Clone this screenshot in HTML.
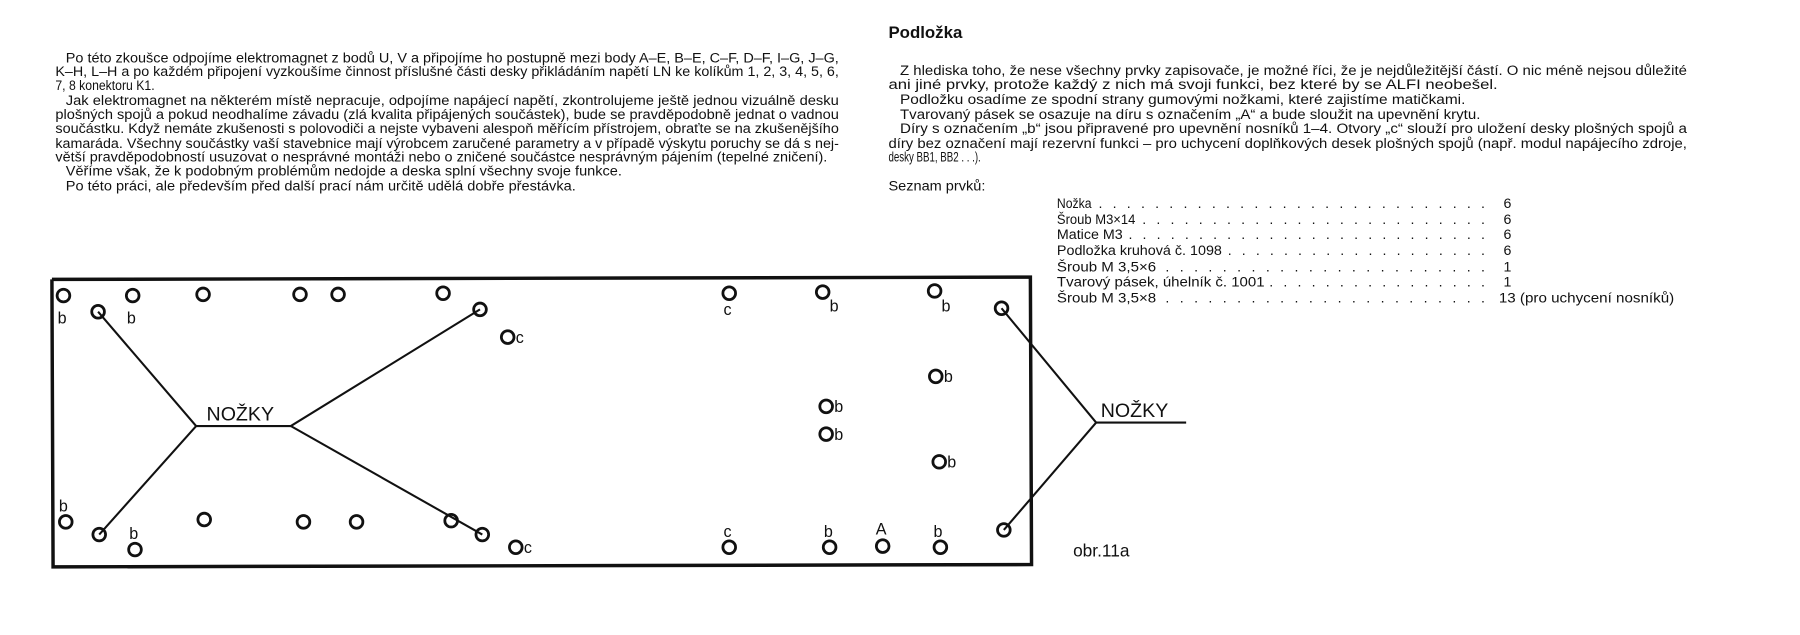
<!DOCTYPE html>
<html><head><meta charset="utf-8"><style>
html,body{margin:0;padding:0;background:#fff;width:1800px;height:635px;overflow:hidden}
svg{display:block}
text{font-family:"Liberation Sans",sans-serif;fill:#111}
.t{font-size:12.3px}
</style></head><body>
<svg width="1800" height="635" viewBox="0 0 1560 550" preserveAspectRatio="none" xmlns="http://www.w3.org/2000/svg">
<g class="t" lengthAdjust="spacingAndGlyphs">
<text x="57" y="54" textLength="670" lengthAdjust="spacingAndGlyphs">Po této zkoušce odpojíme elektromagnet z bodů U, V a připojíme ho postupně mezi body A–E, B–E, C–F, D–F, I–G, J–G,</text>
<text x="48" y="66" textLength="679" lengthAdjust="spacingAndGlyphs">K–H, L–H a po každém připojení vyzkoušíme činnost příslušné části desky přikládáním napětí LN ke kolíkům 1, 2, 3, 4, 5, 6,</text>
<text x="48" y="78" textLength="86" lengthAdjust="spacingAndGlyphs">7, 8 konektoru K1.</text>
<text x="57" y="91" textLength="670" lengthAdjust="spacingAndGlyphs">Jak elektromagnet na některém místě nepracuje, odpojíme napájecí napětí, zkontrolujeme ještě jednou vizuálně desku</text>
<text x="48" y="103" textLength="679" lengthAdjust="spacingAndGlyphs">plošných spojů a pokud neodhalíme závadu (zlá kvalita připájených součástek), bude se pravděpodobně jednat o vadnou</text>
<text x="48" y="115" textLength="679" lengthAdjust="spacingAndGlyphs">součástku. Když nemáte zkušenosti s polovodiči a nejste vybaveni alespoň měřícím přístrojem, obraťte se na zkušenějšího</text>
<text x="48" y="128" textLength="679" lengthAdjust="spacingAndGlyphs">kamaráda. Všechny součástky vaší stavebnice mají výrobcem zaručené parametry a v případě výskytu poruchy se dá s nej-</text>
<text x="48" y="140" textLength="669" lengthAdjust="spacingAndGlyphs">větší pravděpodobností usuzovat o nesprávné montáži nebo o zničené součástce nesprávným pájením (tepelné zničení).</text>
<text x="57" y="152" textLength="482" lengthAdjust="spacingAndGlyphs">Věříme však, že k podobným problémům nedojde a deska splní všechny svoje funkce.</text>
<text x="57" y="165" textLength="442" lengthAdjust="spacingAndGlyphs">Po této práci, ale především před další prací nám určitě udělá dobře přestávka.</text>

<text x="770" y="33" style="font-size:14.5px;font-weight:bold" textLength="64" lengthAdjust="spacingAndGlyphs">Podložka</text>
<text x="780" y="65" textLength="682" lengthAdjust="spacingAndGlyphs">Z hlediska toho, že nese všechny prvky zapisovače, je možné říci, že je nejdůležitější částí. O nic méně nejsou důležité</text>
<text x="770" y="77" textLength="528" lengthAdjust="spacingAndGlyphs">ani jiné prvky, protože každý z nich má svoji funkci, bez které by se ALFI neobešel.</text>
<text x="780" y="90" textLength="490" lengthAdjust="spacingAndGlyphs">Podložku osadíme ze spodní strany gumovými nožkami, které zajistíme matičkami.</text>
<text x="780" y="103" textLength="503" lengthAdjust="spacingAndGlyphs">Tvarovaný pásek se osazuje na díru s označením „A“ a bude sloužit na upevnění krytu.</text>
<text x="780" y="115" textLength="682" lengthAdjust="spacingAndGlyphs">Díry s označením „b“ jsou připravené pro upevnění nosníků 1–4. Otvory „c“ slouží pro uložení desky plošných spojů a</text>
<text x="770" y="128" textLength="692" lengthAdjust="spacingAndGlyphs">díry bez označení mají rezervní funkci – pro uchycení doplňkových desek plošných spojů (např. modul napájecího zdroje,</text>
<text x="770" y="140" textLength="80" lengthAdjust="spacingAndGlyphs">desky BB1, BB2 . . .).</text>
<text x="770" y="165" textLength="84" lengthAdjust="spacingAndGlyphs">Seznam prvků:</text>

<text x="916" y="180" textLength="30" lengthAdjust="spacingAndGlyphs">Nožka</text><text x="952" y="180" textLength="335" lengthAdjust="spacing">. . . . . . . . . . . . . . . . . . . . . . . . . . . .</text><text x="1303" y="180">6</text>
<text x="916" y="194" textLength="68" lengthAdjust="spacingAndGlyphs">Šroub M3×14</text><text x="990" y="194" textLength="297" lengthAdjust="spacing">. . . . . . . . . . . . . . . . . . . . . . . . .</text><text x="1303" y="194">6</text>
<text x="916" y="207" textLength="57" lengthAdjust="spacingAndGlyphs">Matice M3</text><text x="978" y="207" textLength="309" lengthAdjust="spacing">. . . . . . . . . . . . . . . . . . . . . . . . . .</text><text x="1303" y="207">6</text>
<text x="916" y="221" textLength="143" lengthAdjust="spacingAndGlyphs">Podložka kruhová č. 1098</text><text x="1064" y="221" textLength="223" lengthAdjust="spacing">. . . . . . . . . . . . . . . . . . .</text><text x="1303" y="221">6</text>
<text x="916" y="235" textLength="86" lengthAdjust="spacingAndGlyphs">Šroub M 3,5×6</text><text x="1010" y="235" textLength="277" lengthAdjust="spacing">. . . . . . . . . . . . . . . . . . . . . . .</text><text x="1303" y="235">1</text>
<text x="916" y="248" textLength="180" lengthAdjust="spacingAndGlyphs">Tvarový pásek, úhelník č. 1001</text><text x="1100" y="248" textLength="187" lengthAdjust="spacing">. . . . . . . . . . . . . . . .</text><text x="1303" y="248">1</text>
<text x="916" y="262" textLength="86" lengthAdjust="spacingAndGlyphs">Šroub M 3,5×8</text><text x="1010" y="262" textLength="277" lengthAdjust="spacing">. . . . . . . . . . . . . . . . . . . . . . .</text><text x="1299" y="262" textLength="152" lengthAdjust="spacingAndGlyphs">13  (pro uchycení nosníků)</text>
</g>

<g fill="none" stroke="#111">
<polyline points="45,242 893,240 894,489 46,491 45,242" stroke-width="3"/>
<g stroke-width="1.8">
<polyline points="85,270 170,369 252,369 416,268"/>
<polyline points="86,463 170,369"/>
<polyline points="252,369 418,463"/>
<polyline points="868,267 950,366 1028,366"/>
<polyline points="870,459 950,366"/>
</g>
<g stroke-width="2.4">
<circle cx="55" cy="256" r="5.5"/><circle cx="115" cy="256" r="5.5"/><circle cx="176" cy="255" r="5.5"/>
<circle cx="260" cy="255" r="5.5"/><circle cx="293" cy="255" r="5.5"/><circle cx="384" cy="254" r="5.5"/>
<circle cx="85" cy="270" r="5.5"/><circle cx="416" cy="268" r="5.5"/><circle cx="440" cy="292" r="5.5"/>
<circle cx="632" cy="254" r="5.5"/><circle cx="713" cy="253" r="5.5"/><circle cx="810" cy="252" r="5.5"/>
<circle cx="868" cy="267" r="5.5"/>
<circle cx="811" cy="326" r="5.5"/><circle cx="716" cy="352" r="5.5"/><circle cx="716" cy="376" r="5.5"/><circle cx="814" cy="400" r="5.5"/>
<circle cx="57" cy="452" r="5.5"/><circle cx="86" cy="463" r="5.5"/><circle cx="117" cy="476" r="5.5"/>
<circle cx="177" cy="450" r="5.5"/><circle cx="263" cy="452" r="5.5"/><circle cx="309" cy="452" r="5.5"/>
<circle cx="391" cy="451" r="5.5"/><circle cx="418" cy="463" r="5.5"/><circle cx="447" cy="474" r="5.5"/>
<circle cx="632" cy="474" r="5.5"/><circle cx="719" cy="474" r="5.5"/><circle cx="765" cy="473" r="5.5"/>
<circle cx="815" cy="474" r="5.5"/><circle cx="870" cy="459" r="5.5"/>
</g>
</g>

<g style="font-size:14px">
<text x="50" y="280">b</text><text x="110" y="280">b</text>
<text x="447" y="297">c</text><text x="627" y="273">c</text><text x="719" y="270">b</text><text x="816" y="270">b</text>
<text x="818" y="331">b</text><text x="723" y="357">b</text><text x="723" y="381">b</text><text x="821" y="405">b</text>
<text x="51" y="443">b</text><text x="112" y="467">b</text>
<text x="454" y="479">c</text><text x="627" y="465">c</text><text x="714" y="465">b</text><text x="759" y="463">A</text><text x="809" y="465">b</text>
</g>
<text x="179" y="364" style="font-size:17px">NOŽKY</text>
<text x="954" y="361" style="font-size:17px">NOŽKY</text>
<text x="930" y="482" style="font-size:15px">obr.11a</text>
</svg>
</body></html>
